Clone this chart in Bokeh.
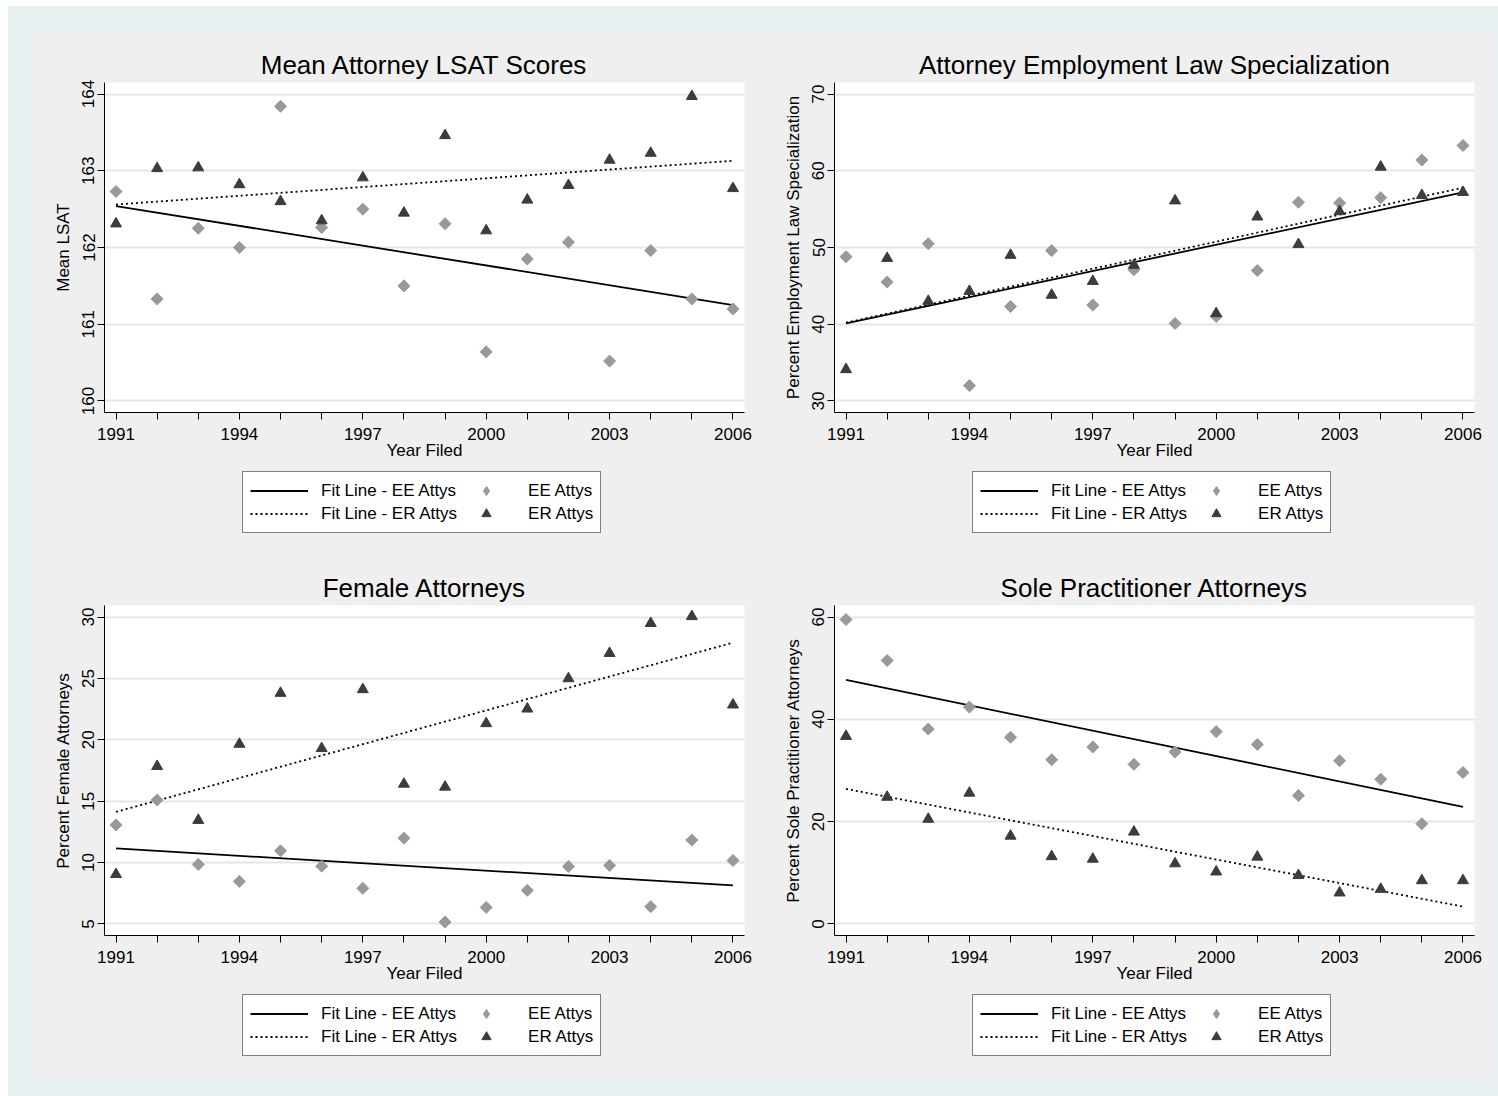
import numpy as np
from bokeh.plotting import figure
from bokeh.models import FixedTicker, Range1d, Legend, LegendItem, Spacer
from bokeh.layouts import row, column
from bokeh.embed import file_html
from bokeh.resources import INLINE

# ---------------- data ----------------
years = list(range(1991, 2007))
year_labels = [1991, 1994, 1997, 2000, 2003, 2006]
fit_years = [1991, 2006]

titles = ["Mean Attorney LSAT Scores", "Attorney Employment Law Specialization",
          "Female Attorneys", "Sole Practitioner Attorneys"]
ylabels = ["Mean LSAT", "Percent Employment Law Specialization",
           "Percent Female Attorneys", "Percent Sole Practitioner Attorneys"]
xlabel = "Year Filed"

lsat_ee = [162.73, 161.33, 162.25, 162.00, 163.84, 162.26, 162.50, 161.50,
           162.31, 160.64, 161.85, 162.07, 160.52, 161.96, 161.33, 161.20]
lsat_er = [162.31, 163.03, 163.04, 162.82, 162.60, 162.35, 162.91, 162.45,
           163.46, 162.22, 162.62, 162.81, 163.14, 163.23, 163.97, 162.77]
lsat_fit_ee = [162.54, 161.25]
lsat_fit_er = [162.56, 163.13]

spec_ee = [48.8, 45.5, 50.5, 32.0, 42.3, 49.6, 42.5, 47.1,
           40.1, 41.0, 47.0, 55.9, 55.8, 56.5, 61.4, 63.3]
spec_er = [34.1, 48.6, 43.0, 44.3, 49.0, 43.8, 45.6, 47.7,
           56.1, 41.4, 54.0, 50.4, 54.7, 60.5, 56.8, 57.2]
spec_fit_ee = [40.1, 57.2]
spec_fit_er = [40.2, 57.8]

fem_ee = [13.07, 15.10, 9.85, 8.47, 10.96, 9.71, 7.90, 11.99,
          5.16, 6.35, 7.74, 9.69, 9.77, 6.41, 11.83, 10.17]
fem_er = [9.04, 17.84, 13.45, 19.65, 23.80, 19.30, 24.10, 16.40,
          16.16, 21.33, 22.52, 24.99, 27.05, 29.49, 30.05, 22.85]
fem_fit_ee = [11.15, 8.14]
fem_fit_er = [14.13, 27.91]

sole_ee = [59.5, 51.5, 38.1, 42.4, 36.5, 32.1, 34.6, 31.2,
           33.6, 37.6, 35.1, 25.1, 31.9, 28.3, 19.6, 29.6]
sole_er = [36.7, 24.8, 20.5, 25.6, 17.2, 13.2, 12.7, 18.0,
           11.8, 10.2, 13.1, 9.5, 6.1, 6.8, 8.5, 8.5]
sole_fit_ee = [47.7, 22.9]
sole_fit_er = [26.4, 3.4]

yticks = [[160, 161, 162, 163, 164], [30, 40, 50, 60, 70],
          [5, 10, 15, 20, 25, 30], [0, 20, 40, 60]]
yranges = [(159.85, 164.15), (28.49, 71.51), (4.06, 30.94), (-2.25, 62.25)]
xrange_ = (1990.72, 2006.28)

legend_labels = ["Fit Line - EE Attys", "Fit Line - ER Attys", "EE Attys", "ER Attys"]

# ---------------- styles ----------------
FONT = "Liberation Sans"
GRAY_BG = "#efefef"
OUTER_BG = "#e9f1f3"
EE_COLOR = "#999999"
ER_COLOR = "#3c3c3c"
PANEL_W = 730
PLOT_H = 437


def make_plot(title, ylabel, ee, er, fit_ee, fit_er, ticks, yr):
    p = figure(width=PANEL_W, height=PLOT_H, output_backend="svg", toolbar_location=None,
               x_range=Range1d(*xrange_), y_range=Range1d(*yr),
               min_border_left=72, min_border_right=18, min_border_top=51,
               min_border_bottom=PLOT_H - 51 - 330)
    p.border_fill_color = GRAY_BG
    p.background_fill_color = "white"
    p.outline_line_color = None

    p.title.text = title
    p.title.text_font = FONT
    p.title.text_font_size = "26px"
    p.title.text_font_style = "normal"
    p.title.text_color = "black"
    p.title.align = "center"
    p.title.standoff = 5

    p.xgrid.grid_line_color = None
    p.ygrid.grid_line_color = "#e6e6e6"
    p.ygrid.grid_line_width = 2

    xa = p.xaxis[0]
    xa.ticker = FixedTicker(ticks=years)
    xa.major_label_overrides = {y: "" for y in years if y not in year_labels}
    xa.axis_label = xlabel
    xa.major_tick_out = 7
    xa.major_tick_in = 0
    xa.minor_tick_out = 0
    xa.minor_tick_in = 0
    xa.major_label_standoff = 8
    xa.axis_label_standoff = -2
    ya = p.yaxis[0]
    ya.ticker = FixedTicker(ticks=ticks)
    ya.axis_label = ylabel
    ya.major_tick_out = 7
    ya.major_tick_in = 0
    ya.minor_tick_out = 0
    ya.minor_tick_in = 0
    ya.major_label_orientation = "vertical"
    ya.major_label_standoff = 3
    ya.axis_label_standoff = 7
    for ax in (xa, ya):
        ax.axis_line_color = "black"
        ax.major_tick_line_color = "black"
        ax.major_label_text_font = FONT
        ax.major_label_text_font_size = "17px"
        ax.major_label_text_color = "black"
        ax.axis_label_text_font = FONT
        ax.axis_label_text_font_size = "17px"
        ax.axis_label_text_font_style = "normal"
        ax.axis_label_text_color = "black"

    p.line(fit_years, fit_ee, line_color="black", line_width=1.8)
    p.line(fit_years, fit_er, line_color="black", line_width=1.8, line_dash="2 3")
    p.scatter(years, ee, marker="square", angle=np.pi / 4, size=8.5,
              fill_color=EE_COLOR, line_color=EE_COLOR)
    p.scatter(years, er, marker="triangle", size=11,
              fill_color=ER_COLOR, line_color=ER_COLOR)
    return p


def make_key(height, ee, er, fit_ee, fit_er):
    # a strip under each panel that carries the legend box; its renderers hold the
    # same series but lie outside this strip's ranges, so only the legend swatches show
    k = figure(width=PANEL_W, height=height, output_backend="svg", toolbar_location=None,
               x_range=Range1d(0, 1), y_range=Range1d(0, 1), title=None,
               x_axis_type=None, y_axis_type=None, min_border=0)
    k.border_fill_color = GRAY_BG
    k.background_fill_color = GRAY_BG
    k.outline_line_color = None
    k.xgrid.visible = False
    k.ygrid.visible = False
    r_fit_ee = k.line(fit_years, fit_ee, line_color="black", line_width=1.8)
    r_fit_er = k.line(fit_years, fit_er, line_color="black", line_width=1.8,
                      line_dash="2 3")
    r_ee = k.scatter(years, ee, marker="diamond", fill_color=EE_COLOR,
                     line_color=EE_COLOR)
    r_er = k.scatter(years, er, marker="triangle", fill_color=ER_COLOR,
                     line_color=ER_COLOR)
    rmap = dict(zip(legend_labels, [r_fit_ee, r_fit_er, r_ee, r_er]))
    order = [legend_labels[i] for i in (0, 2, 1, 3)]
    legend = Legend(items=[LegendItem(label=l, renderers=[rmap[l]], index=0) for l in order],
                    orientation="horizontal", nrows=2, location=(138, height - 65),
                    glyph_width=58, glyph_height=23, label_height=23,
                    label_standoff=13, spacing=0, padding=7, margin=0,
                    border_line_color="black", border_line_width=1,
                    background_fill_color="white", background_fill_alpha=1.0,
                    label_text_font=FONT, label_text_font_size="17px",
                    label_text_color="black")
    k.add_layout(legend, "center")
    return k


p1 = make_plot(titles[0], ylabels[0], lsat_ee, lsat_er, lsat_fit_ee, lsat_fit_er,
               yticks[0], yranges[0])
p2 = make_plot(titles[1], ylabels[1], spec_ee, spec_er, spec_fit_ee, spec_fit_er,
               yticks[1], yranges[1])
p3 = make_plot(titles[2], ylabels[2], fem_ee, fem_er, fem_fit_ee, fem_fit_er,
               yticks[2], yranges[2])
p4 = make_plot(titles[3], ylabels[3], sole_ee, sole_er, sole_fit_ee, sole_fit_er,
               yticks[3], yranges[3])

k1 = make_key(86, lsat_ee, lsat_er, lsat_fit_ee, lsat_fit_er)
k2 = make_key(86, spec_ee, spec_er, spec_fit_ee, spec_fit_er)
k3 = make_key(87, fem_ee, fem_er, fem_fit_ee, fem_fit_er)
k4 = make_key(87, sole_ee, sole_er, sole_fit_ee, sole_fit_er)

grid = column(row(column(p1, k1), column(p2, k2)),
              row(column(p3, k3), column(p4, k4)))
box = column(Spacer(height=25),
             row(Spacer(width=24), grid, Spacer(width=6)),
             Spacer(height=18),
             styles={"background-color": OUTER_BG})
page = column(Spacer(height=6), row(Spacer(width=8), box))

open("out.html", "w").write(file_html(page, INLINE))
